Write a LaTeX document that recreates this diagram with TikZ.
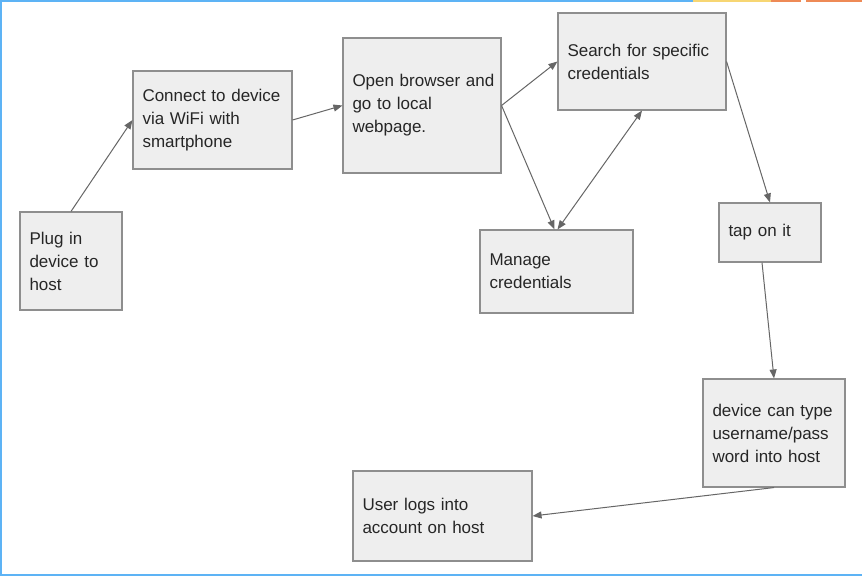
\documentclass[tikz,border=0pt]{standalone}
\usepackage{fontspec}
\setmainfont{Liberation Sans}
\usetikzlibrary{arrows.meta}
\definecolor{boxfill}{HTML}{EEEEEE}
\definecolor{boxline}{HTML}{8E8E8E}
\definecolor{arrowc}{HTML}{666666}
\definecolor{frameblue}{HTML}{5DB3F5}
\definecolor{frameyellow}{HTML}{F7D673}
\definecolor{frameorange}{HTML}{EE8A56}
\tikzset{
  box/.style={draw=boxline, fill=boxfill, line width=1.1pt, inner xsep=9.5pt, inner ysep=0pt,
    align=left, font=\fontsize{17}{23}\selectfont, text=black!85},
  conn/.style={draw=arrowc, line width=1pt, -{Triangle[length=9pt,width=7pt]}},
  bconn/.style={draw=arrowc, line width=1pt, {Triangle[length=9pt,width=7pt]}-{Triangle[length=9pt,width=7pt]}}
}
\newcommand{\mybox}[7]{% name, x1, y1, x2, y2, text
  \node[box, text width={#4-#2-19}, minimum height={#5-#3}] (#1) at ({(#2+#4)/2},{(#3+#5)/2}) {#6};}
\begin{document}
\begin{tikzpicture}[x=1pt,y=-1pt]
\useasboundingbox (0,0) rectangle (862,576);
\fill[white] (0,0) rectangle (862,576);
% frame
\fill[frameblue] (0,0) rectangle (693,2);
\fill[frameyellow] (693,0) rectangle (771,2);
\fill[frameorange] (771,0) rectangle (801,2);
\fill[frameorange] (806,0) rectangle (862,2);
\fill[frameblue] (0,0) rectangle (2,576);
\fill[frameblue] (0,574) rectangle (862,576);
% boxes
\mybox{plug}{20}{212}{122}{310}{Plug in\\device to\\host}{}
\mybox{connect}{133}{71}{292}{169}{Connect~to~device\\via WiFi with\\smartphone}{}
\mybox{open}{343}{38}{501}{173}{Open~browser~and\\go to local\\webpage.}{}
\mybox{search}{558}{13}{726}{110}{Search~for~specific\\credentials}{}
\mybox{manage}{480}{230}{633}{313}{Manage\\credentials}{}
\mybox{tap}{719}{203}{821}{262}{tap on it}{}
\mybox{device}{703}{379}{845}{487}{device~can~type\\username/pass\\word into host}{}
\mybox{user}{353}{471}{532}{561}{User logs into\\account on host}{}
% connectors
\draw[conn] (plug.north) -- (connect.west);
\draw[conn] (connect.east) -- (open.west);
\draw[conn] (open.east) -- (search.west);
\draw[conn] (open.east) -- ([xshift=-2pt]manage.north);
\draw[bconn] (search.south) -- ([xshift=1pt]manage.north);
\draw[conn] (search.east) -- (tap.north);
\draw[conn] ([xshift=-8pt]tap.south) -- (device.north);
\draw[conn] (device.south) -- (user.east);
\end{tikzpicture}
\end{document}
